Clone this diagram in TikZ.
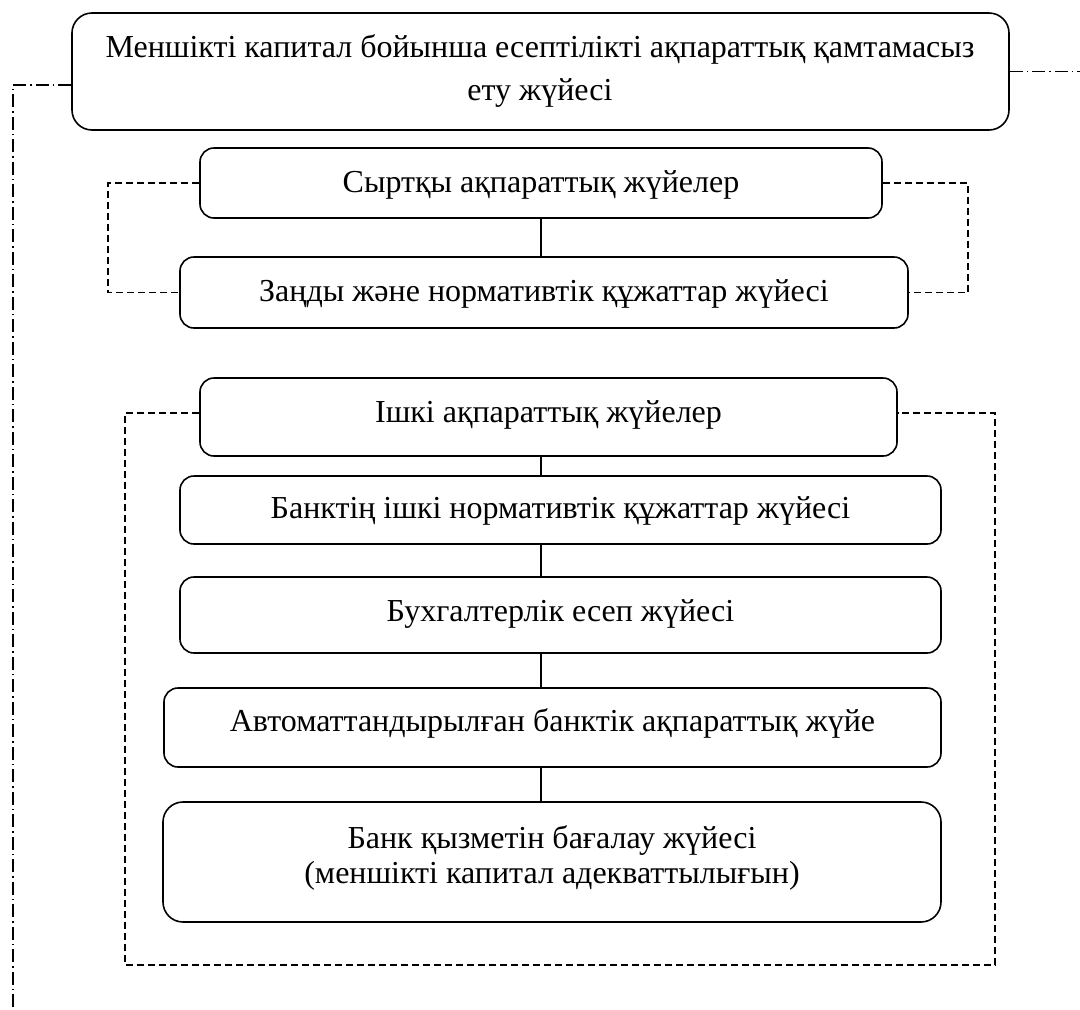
\documentclass[tikz,border=0pt]{standalone}
\usepackage{fontspec}
\setmainfont{Liberation Serif}
\begin{document}
\begin{tikzpicture}[x=1pt,y=-1pt,
  box/.style={draw, line width=1.6pt, rounded corners=14pt, inner sep=0pt},
  lbl/.style={anchor=base, inner sep=0pt, font=\fontsize{32}{38}\selectfont},
  dsh/.style={line width=1.5pt, dash pattern=on 7pt off 4pt},
  dd/.style={line width=1.5pt, dash pattern=on 13pt off 4pt on 1.5pt off 4pt},
  conn/.style={line width=1.4pt}]
\useasboundingbox (0,0) rectangle (1080,1010);
\coordinate (axis) at (541,0);
% boxes
\node[box, rounded corners=20pt, minimum width=937pt, minimum height=117pt] (main) at (540.5,71.5) {};
\node[box, minimum width=682pt, minimum height=70pt] (syr) at (541,183) {};
\node[box, minimum width=728pt, minimum height=71pt] (zan) at (544,292.5) {};
\node[box, minimum width=697pt, minimum height=78pt] (ish) at (548.5,417) {};
\node[box, minimum width=761pt, minimum height=68pt] (bnk) at (560.5,510) {};
\node[box, minimum width=761pt, minimum height=76pt] (buh) at (560.5,615) {};
\node[box, minimum width=777pt, minimum height=79pt] (avt) at (552.5,727.5) {};
\node[box, rounded corners=20pt, minimum width=778pt, minimum height=120pt] (bag) at (552,862) {};
% texts
\node[lbl] (t1) at (540,57) {Меншікті капитал бойынша есептілікті ақпараттық қамтамасыз};
\node[lbl] (t2) at (540,100) {ету жүйесі};
\node[lbl] (t3) at (541,192) {Сыртқы ақпараттық жүйелер};
\node[lbl] (t4) at (544,301) {Заңды және нормативтік құжаттар жүйесі};
\node[lbl] (t5) at (548.5,422) {Ішкі ақпараттық жүйелер};
\node[lbl] (t6) at (560.5,518) {Банктің ішкі нормативтік құжаттар жүйесі};
\node[lbl] (t7) at (560.5,621) {Бухгалтерлік есеп жүйесі};
\node[lbl] (t8) at (552.5,731) {Автоматтандырылған банктік ақпараттық жүйе};
\node[lbl] (t9) at (552,848) {Банк қызметін бағалау жүйесі};
\node[lbl] (t10) at (552,883) {(меншікті капитал адекваттылығын)};
% connectors
\draw[conn] (syr.south -| axis) -- (zan.north -| axis);
\draw[conn] (ish.south -| axis) -- (bnk.north -| axis);
\draw[conn] (bnk.south -| axis) -- (buh.north -| axis);
\draw[conn] (buh.south -| axis) -- (avt.north -| axis);
\draw[conn] (avt.south -| axis) -- (bag.north -| axis);
% external dashed
\coordinate (exl) at (108,0);
\coordinate (exr) at (968,0);
\draw[dsh] (syr.west) -- (syr.west -| exl) |- (zan.west);
\draw[dsh] (syr.east) -- (syr.east -| exr) |- (zan.east);
\coordinate (fl) at (125,965);
\coordinate (fr) at (995,965);
\draw[dsh] ([yshift=4pt]ish.west) -| (fl) -- (fr) |- ([yshift=4pt]ish.east);
% dash-dot
\coordinate (ddl) at (13,1010);
\coordinate (ddr) at (1080,0);
\draw[dd] ([yshift=-13.5pt]main.west) -| (ddl);
\draw[dd] (main.east) -- (main.east -| ddr);
\end{tikzpicture}
\end{document}
